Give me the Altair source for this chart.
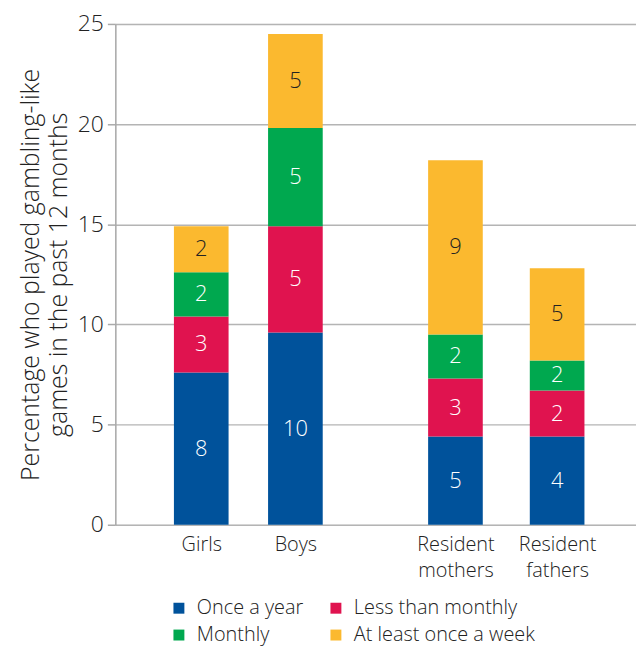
import altair as alt
import pandas as pd

groups = ["Girls", "Boys", "Resident mothers", "Resident fathers"]
group_lines = [["Girls"], ["Boys"], ["Resident", "mothers"], ["Resident", "fathers"]]
slots = [1.0, 2.0, 3.7, 4.78]  # horizontal layout slot of each bar
frequencies = ["Once a year", "Less than monthly", "Monthly", "At least once a week"]
colors = ["#00529B", "#E0134F", "#00A84F", "#FBB92F"]

once_a_year = [7.6, 9.6, 4.4, 4.4]
less_than_monthly = [2.8, 5.3, 2.9, 2.3]
monthly = [2.2, 4.9, 2.2, 1.5]
weekly = [2.3, 4.7, 8.7, 4.6]

once_labels = ["8", "10", "5", "4"]
less_labels = ["3", "5", "3", "2"]
monthly_labels = ["2", "5", "2", "2"]
weekly_labels = ["2", "5", "9", "5"]

series = [once_a_year, less_than_monthly, monthly, weekly]
series_labels = [once_labels, less_labels, monthly_labels, weekly_labels]

rows = []
for gi, g in enumerate(groups):
    for fi, f in enumerate(frequencies):
        rows.append({
            "group": g,
            "slot": slots[gi],
            "freq": f,
            "order": fi,
            "value": series[fi][gi],
            "label": series_labels[fi][gi],
        })
df = pd.DataFrame(rows)

def js(v):
    if len(v) == 1:
        return "'" + v[0] + "'"
    return "[" + ",".join("'" + s + "'" for s in v) + "]"

expr = "''"
for s, lines in reversed(list(zip(slots, group_lines))):
    expr = f"datum.value == {s} ? {js(lines)} : ({expr})"

FONT = "Open Sans"
FW = 300
TXT = "#222222"

x = alt.X(
    "slot:Q",
    scale=alt.Scale(domain=[0.14, 5.565], nice=False, zero=False),
    axis=alt.Axis(
        values=slots, labelExpr=expr, title=None, ticks=False, domain=False, grid=False,
        labelFontSize=20, labelFontWeight=FW, labelPadding=10, labelLineHeight=26, labelFlush=False,
        labelOverlap=False, labelColor=TXT, labelFont=FONT,
    ),
)

base = alt.Chart(df)

bars = base.mark_bar(size=55).encode(
    x=x,
    y=alt.Y(
        "value:Q", stack="zero",
        scale=alt.Scale(domain=[0, 25], nice=False),
        axis=alt.Axis(
            values=[0, 5, 10, 15, 20, 25], title=["Percentage who played gambling-like", "games in the past 12 months"],
            titleFontSize=25, titleFontWeight=FW, titleColor=TXT, titleFont=FONT, titlePadding=6,
            titleLineHeight=28,
            labelFontSize=23, labelFontWeight=FW, labelColor=TXT, labelFont=FONT, labelPadding=4,
            tickSize=8, tickColor="#aaaaaa", tickWidth=1.5,
            domainColor="#aaaaaa", domainWidth=1.5,
            gridColor="#b4b4b4", gridWidth=1.5,
        ),
    ),
    color=alt.Color(
        "freq:N",
        scale=alt.Scale(domain=frequencies, range=colors),
        legend=alt.Legend(
            title=None, orient="none", legendX=54, legendY=578, columns=2, direction="horizontal",
            symbolType="square", symbolSize=121, symbolStrokeWidth=0, symbolOpacity=1,
            labelFontSize=20, labelFontWeight=FW, labelFont=FONT, labelColor=TXT, labelLimit=300,
            columnPadding=22, rowPadding=7, labelOffset=8,
        ),
    ),
    order=alt.Order("order:Q", sort="ascending"),
)

texts = base.transform_stack(
    stack="value", groupby=["group"], as_=["y0", "y1"], sort=[alt.SortField("order", "ascending")]
).transform_calculate(
    mid="(datum.y0 + datum.y1) / 2"
).mark_text(fontSize=22, font=FONT, fontWeight=FW, baseline="middle").encode(
    x=alt.X("slot:Q"),
    y=alt.Y("mid:Q"),
    text="label:N",
    color=alt.condition(alt.datum.freq == "At least once a week", alt.value("#222222"), alt.value("white")),
)

chart = alt.layer(bars, texts).properties(
    width=524, height=504,
    autosize=alt.AutoSizeParams(type="none"),
    padding={"left": 108, "top": 14, "right": 0, "bottom": 120},
).configure_view(stroke=None).configure(background="white")

chart.save("out.html", embed_options={"renderer": "svg", "actions": False})
